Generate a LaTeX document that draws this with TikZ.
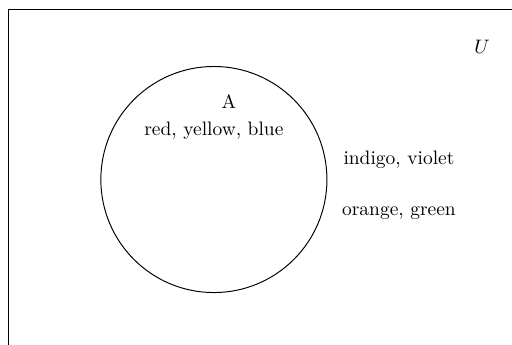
\documentclass[tikz,border=0pt]{standalone}
\usepackage{tikz}
\usetikzlibrary{positioning}

\begin{document}
\begin{tikzpicture}[font=\normalsize,x=1cm,y=1cm,
  setline/.style={draw=black,line width=0.5pt},
  lbl/.style={inner sep=1pt,text=black}]
% page frame, the universe box runs off the right and bottom edges
\clip (0,0) rectangle (9.24,6.22);
\useasboundingbox (0,0) rectangle (9.24,6.22);
\draw[setline] (10.5,6.04) -- (0.15,6.04) -- (0.15,-1);
\node[lbl] (U) at (8.70,5.38) {$U$};
% set A
\node[setline,circle,minimum size=4.08cm,inner sep=0pt] (setA) at (3.86,2.98) {};
\node[lbl] (labA) at (4.13,4.38) {A};
\node[lbl] (inA) at (3.86,3.86) {red, yellow, blue};
% outside A
\node[lbl] (out1) at (7.20,3.34) {indigo, violet};
\node[lbl] (out2) at (7.20,2.38) {orange, green};
\end{tikzpicture}
\end{document}
